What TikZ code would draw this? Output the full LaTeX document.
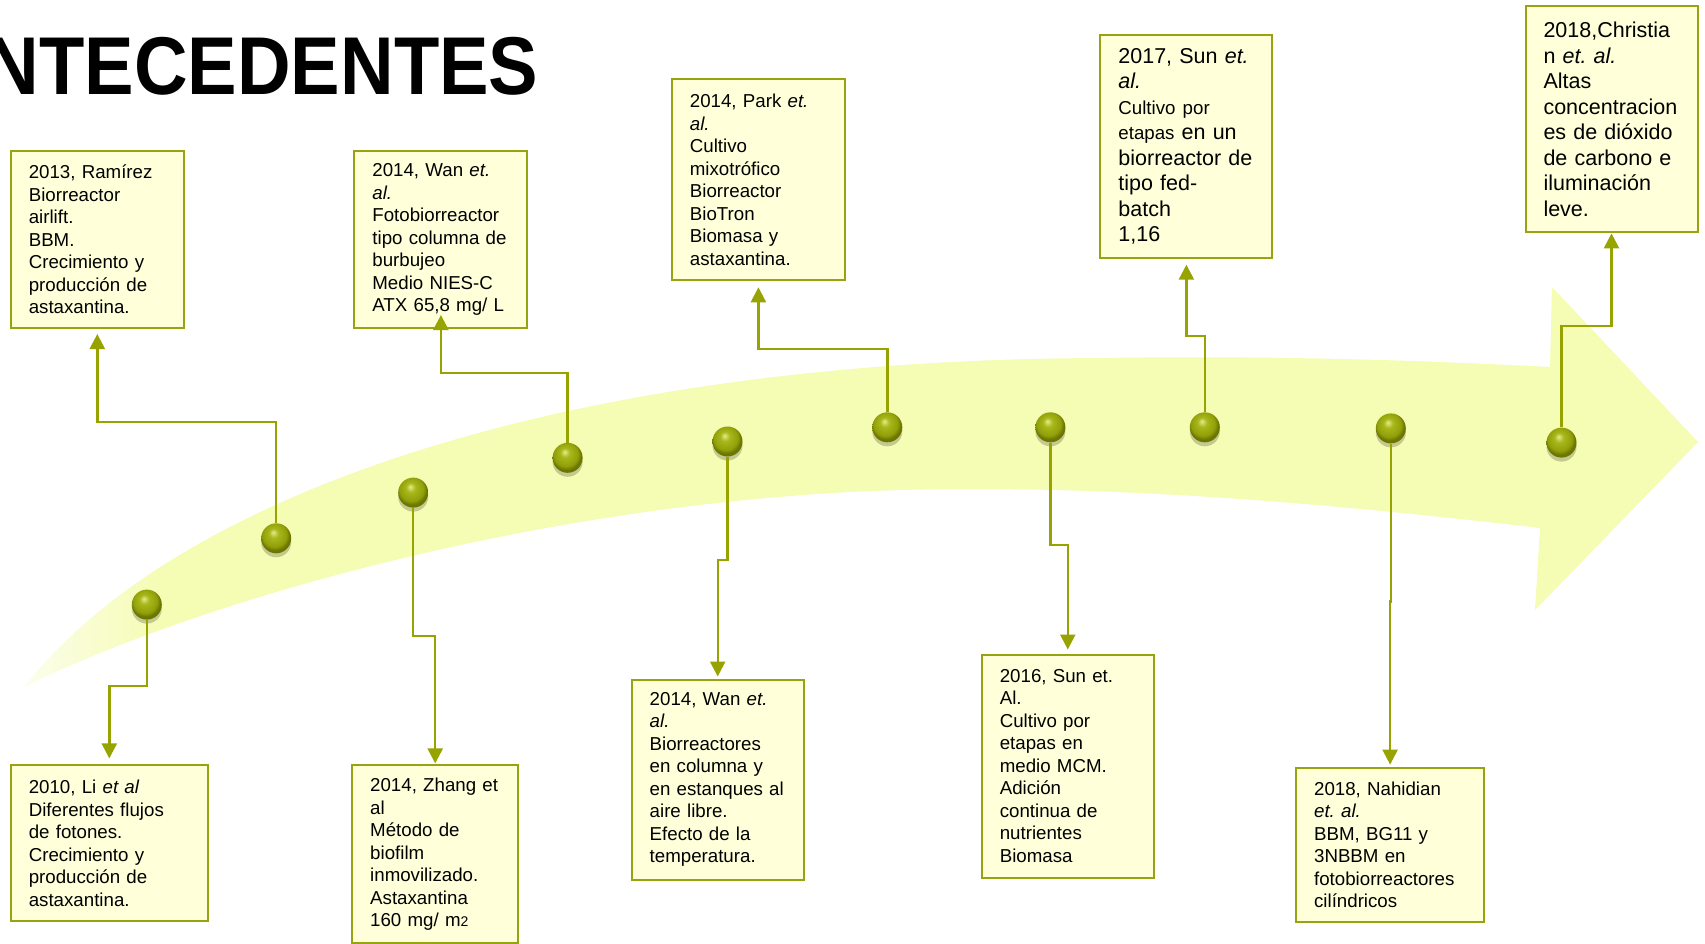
\documentclass[tikz,border=0pt]{standalone}
\usepackage{fontspec}
\setmainfont{Liberation Sans}
\usetikzlibrary{arrows.meta, shadows}
\frenchspacing

\definecolor{bandcol}{RGB}{245,252,180}
\definecolor{bandpale}{RGB}{252,254,236}
\definecolor{boxfill}{RGB}{255,255,218}
\definecolor{boxline}{RGB}{150,165,15}
\definecolor{linecol}{RGB}{150,163,0}
\definecolor{dotlight}{RGB}{228,235,140}
\definecolor{dotmid}{RGB}{168,183,25}
\definecolor{dotrim}{RGB}{145,160,10}
\definecolor{dotdark}{RGB}{108,118,0}

\pgfdeclarehorizontalshading{bandfade}{100bp}{color(0bp)=(bandpale); color(25bp)=(bandpale); color(29bp)=(bandcol); color(100bp)=(bandcol)}
\pgfdeclareradialshading{dotball}{\pgfpoint{-5bp}{10bp}}{color(0bp)=(dotlight); color(8bp)=(dotmid); color(20bp)=(dotrim); color(25bp)=(dotdark); color(50bp)=(dotdark)}

\begin{document}
\begin{tikzpicture}
	[x=1pt, y=-1pt,
	box/.style={draw=boxline, line width=2pt, fill=boxfill, anchor=north west, inner xsep=18pt, inner ysep=0pt, align=left, font=\fontsize{18.7}{22.5}\selectfont},
	bigbox/.style={box, font=\fontsize{21.5}{25.5}\selectfont},
	dot/.style={circle, minimum size=30pt, inner sep=0pt, shade, shading=dotball, drop shadow={shadow xshift=0pt, shadow yshift=-4pt, opacity=0.2, fill=black}},
	conn/.style={draw=linecol, line width=2.4pt, -{Triangle[width=15pt, length=15pt]}}]
	\useasboundingbox (0,0) rectangle (1705,943);
	\clip (0,0) rectangle (1705,943);

	% arrow band %
	\shade[shading=bandfade] (24,687) .. controls (170,500) and (550,360) .. (1100,358)
		.. controls (1300,355) and (1450,362) .. (1550,367) -- (1552,287) -- (1698,442)
		-- (1535,610) -- (1540,528) .. controls (1300,500) and (1100,485) .. (900,490)
		.. controls (550,500) and (200,600) .. (24,687) -- cycle;

	% title %
	\node[anchor=base east, inner sep=0pt, font=\fontsize{82}{90}\selectfont\bfseries] (title) at (538.6,94.5) {\scalebox{0.905}[1]{ANTECEDENTES}};

	% nodes %
	\node[box, text width=137pt, minimum height=177pt] (ramirez) at (9.8,150) {2013, Ramírez\\Biorreactor\\airlift.\\BBM.\\Crecimiento y\\producción de\\astaxantina.};
	\node[box, text width=137pt, minimum height=177pt] (wantop) at (353.4,150) {2014, Wan \textit{et.}\\\textit{al.}\\Fotobiorreactor\\tipo columna de\\burbujeo\\Medio NIES-C\\ATX 65,8 mg/ L};
	\node[box, text width=137pt, minimum height=201pt] (park) at (670.9,78.3) {2014, Park \textit{et.}\\\textit{al.}\\Cultivo\\mixotrófico\\Biorreactor\\BioTron\\Biomasa y\\astaxantina.};
	\node[bigbox, text width=136pt, minimum height=223pt] (suntop) at (1099.4,33.7) {2017, Sun \textit{et.}\\\textit{al.}\\{\fontsize{18.7}{25.5}\selectfont Cultivo por}\\{\fontsize{18.7}{25.5}\selectfont etapas} en un\\biorreactor de\\tipo fed-\\batch\\1,16};
	\node[bigbox, text width=136pt, minimum height=226pt] (christian) at (1524.5,5.4) {2018,Christia\\n \textit{et. al.}\\Altas\\concentracion\\es de dióxido\\de carbono e\\iluminación\\leve.};
	\node[box, text width=161pt, minimum height=156pt] (li) at (9.8,764.4) {2010, Li \textit{et al}\\Diferentes flujos\\de fotones.\\Crecimiento y\\producción de\\astaxantina.};
	\node[box, text width=130pt, minimum height=178pt] (zhang) at (351.2,764.4) {2014, Zhang et\\al\\Método de\\biofilm\\inmovilizado.\\Astaxantina\\160 mg/ m{\fontsize{14}{22.5}\selectfont 2}};
	\node[box, text width=136pt, minimum height=200pt] (wanbot) at (630.7,678.5) {2014, Wan \textit{et.}\\\textit{al.}\\Biorreactores\\en columna y\\en estanques al\\aire libre.\\Efecto de la\\temperatura.};
	\node[box, text width=136pt, minimum height=223pt] (sunbot) at (980.8,653.5) {2016, Sun et.\\Al.\\Cultivo por\\etapas en\\medio MCM.\\Adición\\continua de\\nutrientes\\Biomasa};
	\node[box, text width=152pt, minimum height=154pt] (nahidian) at (1295.1,766.6) {2018, Nahidian\\\textit{et. al.}\\BBM, BG11 y\\3NBBM en\\fotobiorreactores\\cilíndricos};

	\node[dot] (d1) at (146.8,604.6) {};
	\node[dot] (d2) at (276.2,538.3) {};
	\node[dot] (d3) at (413.2,492.6) {};
	\node[dot] (d4) at (567.6,457.8) {};
	\node[dot] (d5) at (727.5,441.5) {};
	\node[dot] (d6) at (887.3,427.3) {};
	\node[dot] (d7) at (1050.4,427.3) {};
	\node[dot] (d8) at (1204.8,427.3) {};
	\node[dot] (d9) at (1390.8,428.4) {};
	\node[dot] (d10) at (1561.5,442.6) {};

	% edges %
	\draw[conn, shorten >=6pt] (d1) -- ++(0,81.4) -| (li.north);
	\draw[conn, shorten >=5pt] (d2) -- ++(0,-116.4) -| (ramirez.south);
	\draw[conn, shorten >=1pt] (d3) -- ++(0,143.5) -| (zhang.north);
	\draw[conn, shorten >=-14pt] (d4) -- ++(0,-84.8) -| (wantop.south);
	\draw[conn, shorten >=2pt] (d5) -- ++(0,118.5) -| (wanbot.north);
	\draw[conn, shorten >=6pt] (d6) -- ++(0,-78.3) -| (park.south);
	\draw[conn, shorten >=4pt] (d7) -- ++(0,117.5) -| (sunbot.north);
	\draw[conn, shorten >=6pt] (d8) -- ++(0,-91.3) -| (suntop.south);
	\draw[conn, shorten >=2pt] (d9) -- ++(0,172.9) -| (nahidian.north);
	\draw[conn] (d10) -- ++(0,-116.4) -| (christian.south);
\end{tikzpicture}
\end{document}
